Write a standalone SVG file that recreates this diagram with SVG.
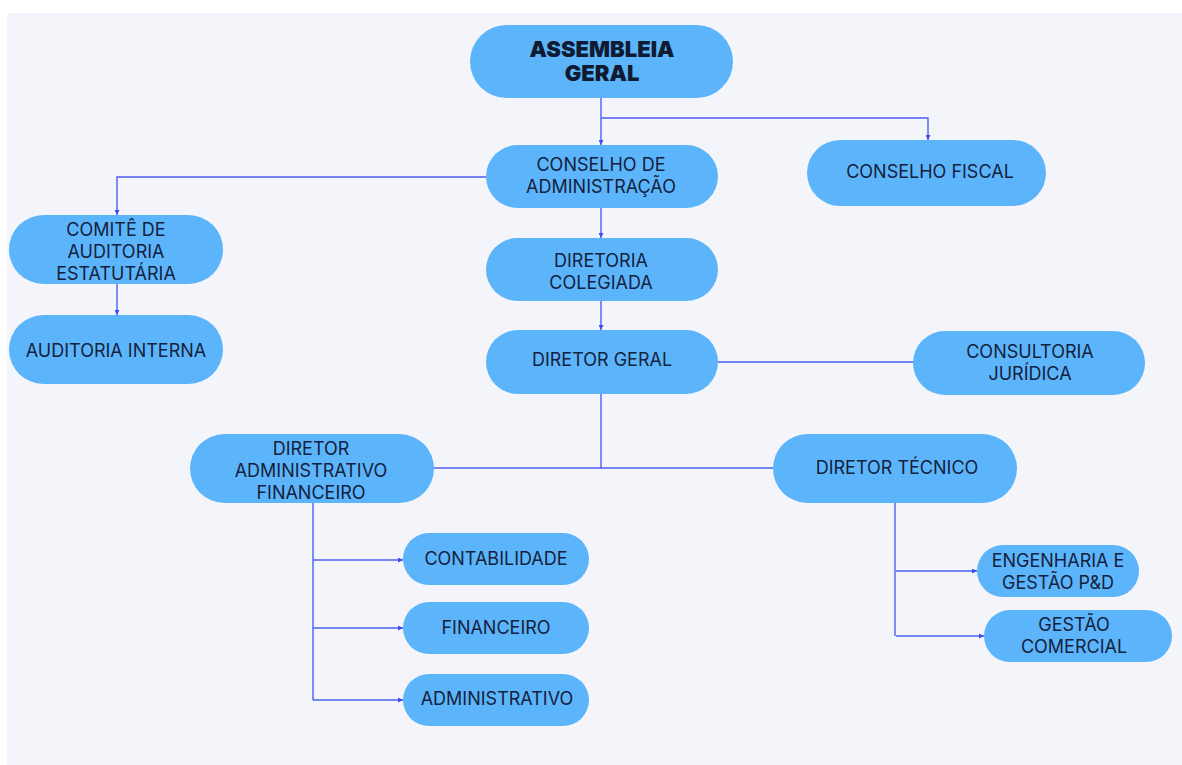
<svg xmlns="http://www.w3.org/2000/svg" width="1182" height="765" viewBox="0 0 1182 765">
<defs>
<marker id="arr" viewBox="0 0 6 6" refX="6" refY="3" markerWidth="5" markerHeight="5" orient="auto" markerUnits="userSpaceOnUse">
<path d="M0,0 L6,3 L0,6 z" fill="#3a4ef0"/>
</marker>
<style>
.n{fill:#5cb5fa;}
.t{font-family:Inter,"Liberation Sans",sans-serif;font-size:18px;fill:#14213d;text-anchor:middle;}
.b{font-family:Inter,"Liberation Sans",sans-serif;font-size:22px;font-weight:900;fill:#0f1a33;text-anchor:middle;}
.c{fill:none;stroke:#4d5ef2;stroke-width:1.4;}
</style>
</defs>
<rect x="0" y="0" width="1182" height="765" fill="#ffffff"/>
<rect x="7" y="13" width="1175" height="752" fill="#f4f5fb"/>
<g id="connectors">
<path class="c" d="M601,98 V145" marker-end="url(#arr)"/>
<path class="c" d="M601,118 H928 V140" marker-end="url(#arr)"/>
<path class="c" d="M486,177 H117 V215" marker-end="url(#arr)"/>
<path class="c" d="M117,284 V315" marker-end="url(#arr)"/>
<path class="c" d="M601,208 V238" marker-end="url(#arr)"/>
<path class="c" d="M601,301 V330" marker-end="url(#arr)"/>
<path class="c" d="M718,362 H913"/>
<path class="c" d="M601,394 V468"/>
<path class="c" d="M434,468 H773"/>
<path class="c" d="M313,503 V700"/>
<path class="c" d="M313,560 H403" marker-end="url(#arr)"/>
<path class="c" d="M313,628 H403" marker-end="url(#arr)"/>
<path class="c" d="M313,700 H403" marker-end="url(#arr)"/>
<path class="c" d="M895,503 V636"/>
<path class="c" d="M896,571 H977" marker-end="url(#arr)"/>
<path class="c" d="M896,636 H984" marker-end="url(#arr)"/>
</g>
<g id="assembleia"><rect class="n" x="470" y="25" width="263" height="73" rx="36.5"/><text class="b" x="602" y="57">ASSEMBLEIA</text><text class="b" x="602" y="81">GERAL</text></g>
<g id="conselho-adm"><rect class="n" x="486" y="145" width="232" height="63" rx="31.5"/><text class="t" x="601" y="171">CONSELHO DE</text><text class="t" x="601" y="193">ADMINISTRAÇÃO</text></g>
<g id="conselho-fiscal"><rect class="n" x="807" y="140" width="239" height="66" rx="33"/><text class="t" x="930" y="178">CONSELHO FISCAL</text></g>
<g id="comite"><rect class="n" x="9" y="215" width="214" height="69" rx="34.5"/><text class="t" x="116" y="236">COMITÊ DE</text><text class="t" x="116" y="258">AUDITORIA</text><text class="t" x="116" y="280">ESTATUTÁRIA</text></g>
<g id="auditoria-interna"><rect class="n" x="9" y="315" width="214" height="69" rx="34.5"/><text class="t" x="116" y="357">AUDITORIA INTERNA</text></g>
<g id="diretoria-colegiada"><rect class="n" x="486" y="238" width="232" height="63" rx="31.5"/><text class="t" x="601" y="267">DIRETORIA</text><text class="t" x="601" y="289">COLEGIADA</text></g>
<g id="diretor-geral"><rect class="n" x="486" y="330" width="232" height="64" rx="32"/><text class="t" x="602" y="366">DIRETOR GERAL</text></g>
<g id="consultoria"><rect class="n" x="913" y="331" width="232" height="64" rx="32"/><text class="t" x="1030" y="358">CONSULTORIA</text><text class="t" x="1030" y="380">JURÍDICA</text></g>
<g id="diretor-adm-fin"><rect class="n" x="190" y="434" width="244" height="69" rx="34.5"/><text class="t" x="311" y="455">DIRETOR</text><text class="t" x="311" y="477">ADMINISTRATIVO</text><text class="t" x="311" y="499">FINANCEIRO</text></g>
<g id="diretor-tecnico"><rect class="n" x="773" y="434" width="244" height="69" rx="34.5"/><text class="t" x="897" y="474">DIRETOR TÉCNICO</text></g>
<g id="contabilidade"><rect class="n" x="403" y="533" width="186" height="52" rx="26"/><text class="t" x="496" y="565">CONTABILIDADE</text></g>
<g id="financeiro"><rect class="n" x="403" y="602" width="186" height="52" rx="26"/><text class="t" x="496" y="634">FINANCEIRO</text></g>
<g id="administrativo"><rect class="n" x="403" y="674" width="186" height="52" rx="26"/><text class="t" x="497" y="705">ADMINISTRATIVO</text></g>
<g id="engenharia"><rect class="n" x="977" y="545" width="162" height="52" rx="26"/><text class="t" x="1058" y="567">ENGENHARIA E</text><text class="t" x="1058" y="589">GESTÃO P&amp;D</text></g>
<g id="gestao-comercial"><rect class="n" x="984" y="610" width="188" height="52" rx="26"/><text class="t" x="1074" y="631">GESTÃO</text><text class="t" x="1074" y="653">COMERCIAL</text></g>
</svg>
